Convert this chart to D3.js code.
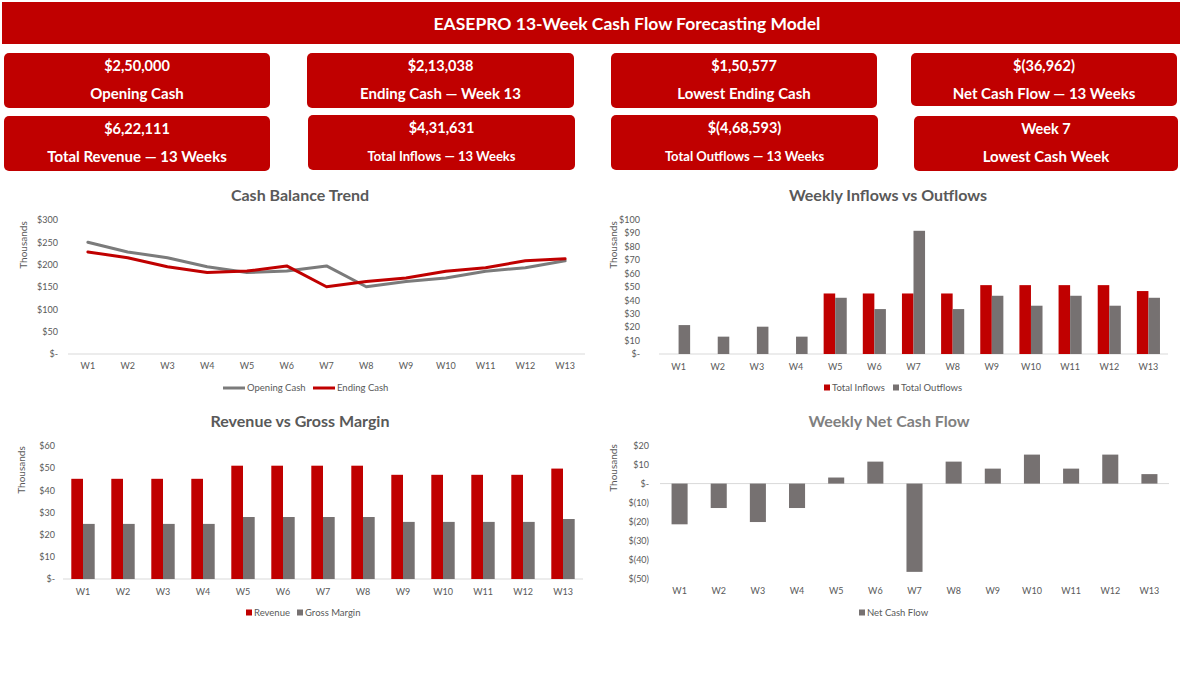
<!DOCTYPE html>
<html>
<head>
<meta charset="utf-8">
<script src="https://cdn.jsdelivr.net/npm/d3@7/dist/d3.min.js"></script>
<style>
  body { margin: 0; background: #fff; }
  text { font-family: Lato, "Open Sans", sans-serif; }
</style>
</head>
<body>
<svg id="chart" width="1182" height="683"></svg>
<script>
// ---- data (values in thousands unless noted) ----
const weeks = ["W1", "W2", "W3", "W4", "W5", "W6", "W7", "W8", "W9", "W10", "W11", "W12", "W13"];

const kpiValues = ["$2,50,000", "$2,13,038", "$1,50,577", "$(36,962)",
                   "$6,22,111", "$4,31,631", "$(4,68,593)", "Week 7"];
const kpiLabels = ["Opening Cash", "Ending Cash \u2014 Week 13", "Lowest Ending Cash", "Net Cash Flow \u2014 13 Weeks",
                   "Total Revenue \u2014 13 Weeks", "Total Inflows \u2014 13 Weeks", "Total Outflows \u2014 13 Weeks", "Lowest Cash Week"];

const openingCash = [250, 228.5, 215.6, 195.3, 182.4, 185.6, 197.2, 150.6, 162.2, 170.1, 185.4, 193.3, 208.6];
const endingCash  = [228.5, 215.6, 195.3, 182.4, 185.6, 197.2, 150.6, 162.2, 170.1, 185.4, 193.3, 208.6, 213.0];

const totalInflows  = [0, 0, 0, 0, 45.0, 45.0, 45.0, 45.0, 51.2, 51.2, 51.2, 51.2, 46.8];
const totalOutflows = [21.5, 12.9, 20.3, 12.9, 41.8, 33.4, 91.6, 33.4, 43.3, 35.9, 43.3, 35.9, 41.8];

const revenue     = [45.1, 45.1, 45.1, 45.1, 51.0, 51.0, 51.0, 51.0, 46.9, 46.9, 46.9, 46.9, 49.7];
const grossMargin = [24.8, 24.8, 24.8, 24.8, 27.9, 27.9, 27.9, 27.9, 25.7, 25.7, 25.7, 25.7, 27.0];

const netCashFlow = [-21.5, -12.9, -20.3, -12.9, 3.2, 11.6, -46.6, 11.6, 7.9, 15.3, 7.9, 15.3, 5.0];

const RED = "#C00000";
const GREY = "#767171";
const LINE_GREY = "#7b7b7b";
const TXT = "#595959";

const svg = d3.select("#chart");

// ---- header ----
svg.append("rect").attr("x", 2).attr("y", 2).attr("width", 1178).attr("height", 42).attr("fill", RED);
svg.append("text")
    .attr("x", 627).attr("y", 30)
    .attr("text-anchor", "middle")
    .attr("fill", "#fff")
    .attr("font-size", 17.5)
    .attr("font-weight", 700)
    .text("EASEPRO 13-Week Cash Flow Forecasting Model");

// ---- KPI cards ----
const cardBoxes = [
    [4, 53, 266, 55], [307, 53, 267, 55], [611, 53, 266, 55], [911, 53, 266, 53],
    [4, 116, 266, 55], [308, 115, 267, 55], [611, 115, 267, 55], [914, 116, 264, 55]
];
const smallLabel = [false, false, false, false, false, true, true, false];

cardBoxes.forEach((b, i) => {
    const g = svg.append("g").attr("transform", `translate(${b[0]},${b[1]})`);
    g.append("rect").attr("width", b[2]).attr("height", b[3]).attr("rx", 5).attr("fill", RED);
    g.append("text")
        .attr("x", b[2] / 2).attr("y", 18)
        .attr("text-anchor", "middle")
        .attr("fill", "#fff")
        .attr("font-size", 14.5)
        .attr("font-weight", 700)
        .text(kpiValues[i]);
    g.append("text")
        .attr("x", b[2] / 2).attr("y", 46)
        .attr("text-anchor", "middle")
        .attr("fill", "#fff")
        .attr("font-size", smallLabel[i] ? 13 : 15)
        .attr("font-weight", 700)
        .text(kpiLabels[i]);
});

// ---- helpers ----
const fmtMoney = v => v === 0 ? "$-" : (v < 0 ? `$(${-v})` : `$${v}`);

function chartFrame(opt) {
    const g = svg.append("g");
    g.append("text")
        .attr("x", opt.titleX).attr("y", opt.titleY)
        .attr("text-anchor", "middle")
        .attr("fill", opt.titleColor || TXT)
        .attr("font-size", 16)
        .attr("font-weight", 700)
        .text(opt.title);

    const y = d3.scaleLinear().domain(opt.yDomain).range([opt.bottom, opt.top]);
    const x = d3.scaleBand().domain(weeks).range([opt.left, opt.right]);

    // y tick labels
    const yAxis = g.append("g")
        .attr("transform", `translate(${opt.tickRight},0)`)
        .call(d3.axisLeft(y).tickValues(d3.range(opt.yDomain[0], opt.yDomain[1] + 0.001, opt.step))
            .tickFormat(fmtMoney).tickSize(0).tickPadding(0));
    yAxis.select(".domain").remove();
    yAxis.selectAll("text").attr("fill", TXT).attr("font-size", 9).style("font-family", "Lato, sans-serif");

    // baseline at zero
    g.append("line")
        .attr("x1", opt.left).attr("x2", opt.right)
        .attr("y1", y(0)).attr("y2", y(0))
        .attr("stroke", "#d9d9d9").attr("stroke-width", 1);

    // category labels
    const xAxis = g.append("g")
        .attr("transform", `translate(0,${opt.labelY})`)
        .call(d3.axisBottom(x).tickSize(0).tickPadding(0));
    xAxis.select(".domain").remove();
    xAxis.selectAll("text").attr("fill", TXT).attr("font-size", 9).attr("dy", "0.32em").style("font-family", "Lato, sans-serif");

    // axis title
    g.append("text")
        .attr("transform", `translate(${opt.unitX},${opt.unitY}) rotate(-90)`)
        .attr("text-anchor", "middle")
        .attr("fill", TXT)
        .attr("font-size", 10)
        .text("Thousands");

    return { g, x, y };
}

function legend(g, items, y) {
    items.forEach(it => {
        if (it.line) {
            g.append("line")
                .attr("x1", it.x).attr("x2", it.x + 22)
                .attr("y1", y).attr("y2", y)
                .attr("stroke", it.color).attr("stroke-width", 3);
            g.append("text").attr("x", it.x + 24).attr("y", y).attr("dy", "0.35em")
                .attr("fill", TXT).attr("font-size", 9.5).text(it.name);
        } else {
            g.append("rect").attr("x", it.x).attr("y", y - 3.5).attr("width", 6).attr("height", 6).attr("fill", it.color);
            g.append("text").attr("x", it.x + 8).attr("y", y).attr("dy", "0.35em")
                .attr("fill", TXT).attr("font-size", 9.5).text(it.name);
        }
    });
}

function groupedBars(c, seriesList, pad) {
    c.x.paddingInner(pad).paddingOuter(pad / 2);
    const x1 = d3.scaleBand().domain(seriesList.map((s, i) => i)).range([0, c.x.bandwidth()]);
    seriesList.forEach((s, si) => {
        c.g.append("g").selectAll("rect")
            .data(s.values)
            .enter().append("rect")
            .attr("x", (d, i) => c.x(weeks[i]) + x1(si))
            .attr("y", d => c.y(Math.max(0, d)))
            .attr("width", x1.bandwidth())
            .attr("height", d => Math.abs(c.y(d) - c.y(0)))
            .attr("fill", s.color);
    });
}

// ---- Cash Balance Trend ----
const c1 = chartFrame({
    title: "Cash Balance Trend", titleX: 300, titleY: 201,
    yDomain: [0, 300], step: 50, top: 220, bottom: 354,
    left: 68, right: 585, tickRight: 58, labelY: 366,
    unitX: 27, unitY: 245
});
c1.x.paddingInner(0).paddingOuter(0);
const lineGen = vals => d3.line()
    .x((d, i) => c1.x(weeks[i]) + c1.x.bandwidth() / 2)
    .y(d => c1.y(d))(vals);
c1.g.append("path").attr("d", lineGen(openingCash))
    .attr("fill", "none").attr("stroke", LINE_GREY).attr("stroke-width", 3).attr("stroke-linejoin", "round").attr("stroke-linecap", "round");
c1.g.append("path").attr("d", lineGen(endingCash))
    .attr("fill", "none").attr("stroke", RED).attr("stroke-width", 3).attr("stroke-linejoin", "round").attr("stroke-linecap", "round");
legend(c1.g, [
    { name: "Opening Cash", color: LINE_GREY, x: 223, line: true },
    { name: "Ending Cash", color: RED, x: 313, line: true }
], 388);

// ---- Weekly Inflows vs Outflows ----
const c2 = chartFrame({
    title: "Weekly Inflows vs Outflows", titleX: 888, titleY: 201,
    yDomain: [0, 100], step: 10, top: 219.5, bottom: 354,
    left: 659, right: 1168, tickRight: 640, labelY: 367,
    unitX: 617, unitY: 245
});
groupedBars(c2, [
    { values: totalInflows, color: RED },
    { values: totalOutflows, color: GREY }
], 0.41);
legend(c2.g, [
    { name: "Total Inflows", color: RED, x: 824 },
    { name: "Total Outflows", color: GREY, x: 893 }
], 388);

// ---- Revenue vs Gross Margin ----
const c3 = chartFrame({
    title: "Revenue vs Gross Margin", titleX: 300, titleY: 427,
    yDomain: [0, 60], step: 10, top: 445.7, bottom: 579,
    left: 63, right: 583, tickRight: 55, labelY: 592.5,
    unitX: 25, unitY: 470
});
groupedBars(c3, [
    { values: revenue, color: RED },
    { values: grossMargin, color: GREY }
], 0.415);
legend(c3.g, [
    { name: "Revenue", color: RED, x: 246 },
    { name: "Gross Margin", color: GREY, x: 297 }
], 613);

// ---- Weekly Net Cash Flow ----
const c4 = chartFrame({
    title: "Weekly Net Cash Flow", titleX: 889, titleY: 427, titleColor: "#808080",
    yDomain: [-50, 20], step: 10, top: 445.7, bottom: 578.3,
    left: 660, right: 1169, tickRight: 649, labelY: 591.5,
    unitX: 617, unitY: 468
});
groupedBars(c4, [
    { values: netCashFlow, color: GREY }
], 0.59);
legend(c4.g, [
    { name: "Net Cash Flow", color: GREY, x: 859 }
], 613);
</script>
</body>
</html>
